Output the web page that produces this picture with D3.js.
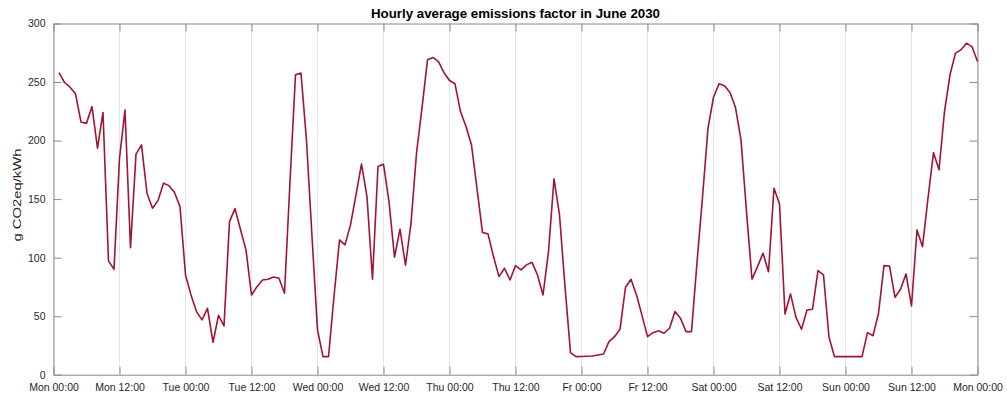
<!DOCTYPE html>
<meta charset="utf-8" />

<!-- Load d3.js -->
<script src="https://d3js.org/d3.v7.min.js"></script>

<style>
  body {
    margin: 0;
    background: #ffffff;
  }
  text {
    font-family: "Liberation Sans", Arial, Helvetica, sans-serif;
  }
</style>

<div id="my_dataviz"></div>

<script>
  // hourly emission factor (g CO2eq/kWh), hour 1 .. hour 168 of the week
  var emissions = [
    258, 249.6, 245.6, 240, 215.7, 214.9, 229, 193.5, 224, 97.2, 90, 185,
    226, 108.5, 188.4, 196.3, 155, 142.2, 148.7, 163.6, 161.5, 155.6, 143.6, 85.2,
    68.1, 53.9, 46.8, 56.7, 27.7, 50.7, 41.6, 130.8, 141.9, 124, 106.6, 68.1,
    75.2, 80.9, 81.5, 83.5, 82.4, 69.6, 165, 256.2, 257.6, 200, 118, 38.2,
    15.4, 15.4, 66.7, 115.1, 110.9, 128, 153.6, 180, 152, 81.5, 177.8, 179.8,
    147.9, 100.3, 124.3, 93.5, 129.4, 189.2, 228, 269, 271, 267.5, 258, 251.3,
    248.5, 224.8, 212, 196.3, 159, 121.4, 120.3, 100.9, 83.8, 90.9, 80.9, 93.2,
    89.5, 93.8, 96, 85.2, 68.1, 105.1, 167.3, 136.5, 75.2, 18.8, 15.4, 15.6,
    15.8, 16, 16.8, 17.7, 28.2, 32.5, 38.8, 74.7, 81.5, 68.1, 50.7, 32.5,
    35.9, 37.6, 35.4, 39.7, 53.9, 48.2, 36.8, 36.8, 95.7, 151.6, 210.6, 237,
    248.5, 246.8, 241, 228.2, 200.6, 139.3, 81.5, 92.3, 103.8, 88, 159.3, 145.9,
    51.9, 69, 49, 38.8, 55.3, 55.9, 88.9, 85.2, 32, 15.4, 15.4, 15.6,
    15.4, 15.4, 15.4, 35.9, 33.3, 52.5, 93.2, 92.9, 66.1, 73, 86.1, 58.7,
    123.7, 109.4, 150.8, 189.7, 175, 224.8, 256.2, 274.7, 277.5, 283.2, 280.3, 267.5
  ];
  var firstHour = 1;

  // x tick positions (hours) and labels
  var tickHours = [0, 12, 24, 36, 48, 60, 72, 84, 96, 108, 120, 132, 144, 156, 168];
  var tickLabels = [
    "Mon 00:00", "Mon 12:00", "Tue 00:00", "Tue 12:00", "Wed 00:00",
    "Wed 12:00", "Thu 00:00", "Thu 12:00", "Fr 00:00", "Fr 12:00",
    "Sat 00:00", "Sat 12:00", "Sun 00:00", "Sun 12:00", "Mon 00:00"
  ];
  var yTicks = [0, 50, 100, 150, 200, 250, 300];

  var title = "Hourly average emissions factor in June 2030";
  var yLabel = "g CO2eq/kWh";

  // set the dimensions and margins of the graph
  var margin = { top: 23.5, right: 29.5, bottom: 21.3, left: 53.5 },
    width = 1007 - margin.left - margin.right,
    height = 396 - margin.top - margin.bottom;

  var svg = d3
    .select("#my_dataviz")
    .append("svg")
    .attr("width", 1007)
    .attr("height", 396)
    .append("g")
    .attr("transform", "translate(" + margin.left + "," + margin.top + ")");

  var x = d3.scaleLinear().domain([0, 168]).range([0, width]);
  var y = d3.scaleLinear().domain([0, 300]).range([height, 0]);

  var axisColor = "#8a8a8a";
  var textColor = "#262626";

  // vertical grid lines
  svg
    .append("g")
    .selectAll("line")
    .data(tickHours)
    .enter()
    .append("line")
    .attr("x1", function (d) { return x(d); })
    .attr("x2", function (d) { return x(d); })
    .attr("y1", 0)
    .attr("y2", height)
    .attr("stroke", "#e6e6e6")
    .attr("stroke-width", 1);

  // bottom axis with labels
  var xAxis = svg
    .append("g")
    .attr("transform", "translate(0," + height + ")")
    .call(
      d3.axisBottom(x)
        .tickValues(tickHours)
        .tickSize(-8)
        .tickSizeOuter(0)
        .tickPadding(9)
        .tickFormat(function (d, i) { return tickLabels[i]; })
    );

  // top axis, ticks only
  var xTop = svg
    .append("g")
    .call(d3.axisTop(x).tickValues(tickHours).tickSize(-8).tickSizeOuter(0).tickFormat(""));

  // left axis
  var yAxis = svg
    .append("g")
    .call(d3.axisLeft(y).tickValues(yTicks).tickSize(-8).tickSizeOuter(0).tickPadding(8));

  // right axis, ticks only
  var yRight = svg
    .append("g")
    .attr("transform", "translate(" + width + ",0)")
    .call(d3.axisRight(y).tickValues(yTicks).tickSize(-8).tickSizeOuter(0).tickFormat(""));

  [xAxis, xTop, yAxis, yRight].forEach(function (g) {
    g.select(".domain").attr("stroke", axisColor);
    g.selectAll(".tick line").attr("stroke", axisColor);
    g.selectAll(".tick text")
      .attr("fill", textColor)
      .style("font-size", "10.5px")
      .style("font-family", '"Liberation Sans", Arial, Helvetica, sans-serif');
  });

  // the line
  var line = d3
    .line()
    .x(function (d, i) { return x(i + firstHour); })
    .y(function (d) { return y(d); });

  svg
    .append("path")
    .datum(emissions)
    .attr("fill", "none")
    .attr("stroke", "#A2142F")
    .attr("stroke-width", 1.6)
    .attr("stroke-linejoin", "round")
    .attr("d", line);

  // title
  svg
    .append("text")
    .attr("x", width / 2)
    .attr("y", -5.3)
    .attr("text-anchor", "middle")
    .style("font-size", "13.3px")
    .style("font-weight", "bold")
    .attr("fill", "#000")
    .text(title);

  // y label (glyphs look stretched along the text in the reference)
  svg
    .append("text")
    .attr("transform", "translate(" + (-33) + "," + 171.5 + ") rotate(-90)")
    .attr("text-anchor", "middle")
    .attr("textLength", 93)
    .attr("lengthAdjust", "spacingAndGlyphs")
    .style("font-size", "11px")
    .attr("fill", textColor)
    .text(yLabel);
</script>
